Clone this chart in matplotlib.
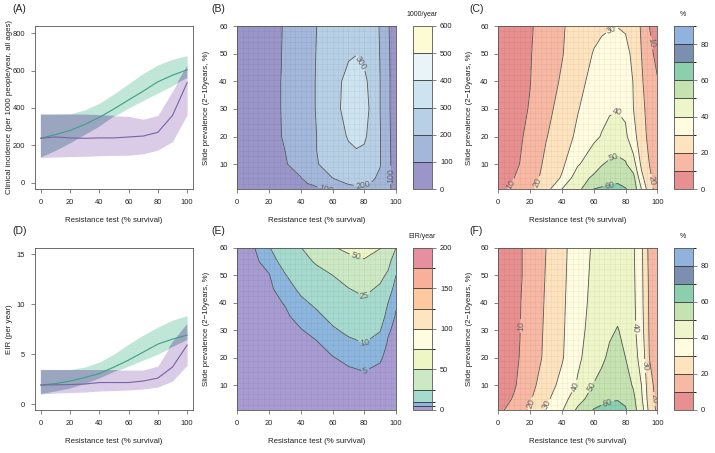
import numpy as np
import matplotlib
matplotlib.use("Agg")
import matplotlib.pyplot as plt
from matplotlib.colors import ListedColormap, BoundaryNorm
from matplotlib.cm import ScalarMappable

plt.rcParams['font.family'] = ['Liberation Sans', 'DejaVu Sans']

# ---------------- data: ribbon panels (A, D) ----------------
survival = [0, 10, 20, 30, 40, 50, 60, 70, 80, 90, 100]

# (A) clinical incidence per 1000 people/year
inc_green_mid = [238, 258, 280, 312, 350, 395, 443, 490, 540, 575, 604]
inc_green_lo = [135, 170, 210, 255, 300, 355, 400, 440, 480, 520, 560]
inc_green_hi = [365, 365, 368, 390, 425, 475, 530, 585, 630, 660, 680]
inc_purple_mid = [238, 245, 240, 238, 240, 240, 245, 250, 270, 360, 535]
inc_purple_lo = [135, 138, 140, 142, 145, 147, 148, 155, 175, 220, 365]
inc_purple_hi = [365, 365, 365, 365, 362, 358, 355, 340, 360, 490, 625]

# (D) EIR per year
eir_green_mid = [1.9, 2.05, 2.3, 2.65, 3.05, 3.7, 4.4, 5.2, 6.0, 6.5, 6.9]
eir_green_lo = [1.0, 1.25, 1.55, 2.0, 2.55, 3.2, 3.8, 4.4, 5.0, 5.7, 6.4]
eir_green_hi = [3.4, 3.4, 3.45, 3.7, 4.2, 5.0, 6.0, 6.9, 7.7, 8.4, 8.85]
eir_purple_mid = [1.9, 1.92, 1.95, 2.0, 2.15, 2.15, 2.15, 2.3, 2.6, 3.7, 5.9]
eir_purple_lo = [1.0, 1.1, 1.15, 1.2, 1.3, 1.35, 1.4, 1.5, 1.7, 2.3, 3.9]
eir_purple_hi = [3.4, 3.4, 3.4, 3.4, 3.4, 3.4, 3.4, 3.4, 3.8, 6.2, 8.0]

# ---------------- data: contour panels ----------------
# (B) clinical incidence (1000/year)
b_x = [0, 10, 20, 30, 40, 50, 60, 65, 70, 75, 80, 85, 90, 95, 100]
b_y = [1, 3, 5, 10, 15, 20, 30, 40, 45, 50, 60]
b_z = [
    [45, 55, 62, 68, 72, 85, 110, 148, 170, 185, 180, 168, 150, 115, 75],
    [48, 58, 68, 78, 85, 120, 165, 190, 205, 212, 208, 195, 172, 112, 72],
    [50, 60, 72, 85, 98, 150, 200, 215, 228, 235, 228, 210, 185, 112, 72],
    [55, 65, 80, 95, 125, 195, 235, 252, 265, 272, 265, 240, 205, 115, 72],
    [58, 68, 83, 100, 135, 200, 245, 268, 290, 298, 292, 262, 205, 113, 72],
    [60, 70, 85, 104, 145, 200, 255, 285, 305, 315, 310, 275, 205, 112, 72],
    [60, 70, 86, 105, 150, 205, 265, 300, 320, 330, 322, 285, 200, 110, 70],
    [60, 70, 86, 105, 150, 205, 263, 298, 312, 318, 312, 280, 200, 110, 70],
    [60, 70, 86, 104, 149, 204, 262, 290, 303, 307, 300, 272, 198, 109, 69],
    [60, 70, 85, 104, 148, 203, 260, 282, 296, 299, 294, 268, 195, 108, 68],
    [60, 70, 85, 103, 145, 200, 255, 275, 290, 295, 288, 260, 190, 105, 65],
]
b_levels = [0, 100, 200, 300, 400, 500, 600]
b_colors = ['#9b96ca', '#a3b7da', '#b7d0e5', '#cde3ef', '#e8f4f8', '#fdfbd3']

# (C) and (F) share x/y grid and palette (%)
cf_x = [0, 10, 20, 30, 40, 50, 60, 65, 70, 75, 80, 85, 90, 95, 100]
cf_y = [1, 5, 10, 20, 30, 40, 50, 60]
c_z = [
    [4, 14, 18, 26, 40, 47, 60, 61.5, 62, 62.5, 60.5, 56, 40, 24, 16],
    [3, 10, 16, 23, 31, 46, 51.5, 54, 56.5, 57.5, 56, 53, 33, 22, 15],
    [3, 8, 14, 22, 28, 39, 46, 49.5, 51.5, 52.5, 51, 44, 28, 20, 14],
    [3, 7.5, 12, 19.5, 25, 32, 38, 40.5, 43, 44, 42, 33, 25, 17, 13],
    [3, 7, 10.5, 17.5, 23, 29.5, 35, 37.5, 39, 39.5, 38, 30, 23, 16, 12],
    [3, 7, 9.8, 16, 21, 27, 33, 35.5, 37, 37.5, 36, 29.5, 21.5, 14, 10.5],
    [3, 6, 9.5, 14.5, 19.5, 25, 30.5, 32, 33, 33.5, 32.5, 28, 20, 12, 8],
    [3, 6, 9, 14, 19, 24, 27.5, 28.8, 29.5, 29.8, 29, 25.5, 19, 10, 6],
]
f_z = [
    [7, 15, 21, 31, 39, 52, 60.5, 62, 63, 63, 61, 53, 45, 27, 18],
    [5, 11, 19, 28, 36, 46, 55, 57.5, 59, 59.5, 58, 52, 42, 25, 17],
    [4, 9, 17, 25, 33, 41, 50.5, 53.5, 56, 57, 54, 49, 40, 24, 16],
    [4, 8, 14.5, 22, 29, 38.5, 44.5, 48, 52, 54, 50, 43.5, 37, 20, 15],
    [4, 7.5, 14, 21.5, 28.5, 37.5, 43, 45.5, 48.5, 50.5, 47.5, 42.5, 34, 19, 15],
    [4, 7.5, 13.5, 21, 28, 37, 42, 44, 46, 47, 45.5, 42, 33, 18.5, 14.5],
    [4, 7, 13, 20.5, 27.5, 36.5, 41.5, 43, 44.5, 45, 44, 41.5, 32.5, 18, 14],
    [4, 7, 13, 20, 27, 36, 41, 42.5, 43.5, 44, 43, 41, 32, 17, 14],
]
cf_levels = [0, 10, 20, 30, 40, 50, 60, 70, 80, 90]
cf_colors = ['#e89090', '#f8b9a4', '#fde3be', '#fffce0', '#eef6c9',
             '#c5e3b1', '#8ccfae', '#7b8fb0', '#8fb3dc']

# (E) EIR/year
e_x = [0, 10, 20, 30, 40, 50, 60, 70, 80, 90, 95, 100]
e_y = [1, 5, 10, 15, 20, 25, 30, 35, 40, 45, 50, 55, 60]
e_z = [
    [1.3, 1.4, 1.5, 1.6, 1.7, 1.8, 1.9, 2.0, 2.0, 2.0, 1.9, 1.9],
    [1.45, 1.6, 1.7, 1.8, 1.9, 2.0, 2.2, 2.4, 2.6, 2.5, 2.3, 2.2],
    [1.6, 1.8, 2.0, 2.2, 2.4, 2.6, 2.9, 3.3, 3.5, 3.2, 2.8, 2.6],
    [1.75, 2.0, 2.2, 2.5, 2.8, 3.2, 3.7, 4.4, 5.0, 4.2, 3.3, 2.9],
    [1.9, 2.2, 2.5, 2.8, 3.2, 3.8, 4.8, 6.0, 7.0, 5.5, 3.8, 3.2],
    [2.1, 2.4, 2.8, 3.2, 3.8, 4.6, 6.5, 8.3, 9.8, 7.5, 4.5, 3.6],
    [2.3, 2.7, 3.2, 3.8, 4.8, 6.2, 9.0, 11.5, 13.0, 10.3, 5.5, 4.0],
    [2.45, 2.9, 3.5, 4.4, 6.2, 8.5, 12.0, 15.0, 17.0, 13.5, 7.5, 4.6],
    [2.6, 3.2, 4.0, 5.2, 8.5, 11.5, 15.5, 19.5, 22.0, 17.5, 10.0, 5.5],
    [2.8, 3.5, 4.3, 6.8, 11.5, 15.0, 20.0, 24.5, 28.5, 22.5, 14.0, 7.0],
    [3.0, 3.8, 4.8, 9.5, 15.0, 19.5, 25.0, 31.0, 36.0, 29.0, 22.5, 10.0],
    [3.2, 4.1, 6.5, 13.0, 19.5, 27.0, 34.0, 42.0, 47.0, 38.0, 30.0, 15.0],
    [3.5, 4.5, 9.5, 17.0, 24.5, 38.0, 48.0, 56.0, 62.0, 51.0, 38.0, 25.0],
]
e_levels = [0, 5, 10, 25, 50, 75, 100, 125, 150, 175, 200]
e_colors = ['#a79bd1', '#8cb6de', '#a7dace', '#cde9c4', '#eef6c6',
            '#fffde0', '#fde6bf', '#fcc9a0', '#f8b09a', '#e6909f']

# ---------------- layout ----------------
W, H = 715, 453
fig = plt.figure(figsize=(W / 100, H / 100), dpi=100)

def box(x0, y0, x1, y1):
    return [x0 / W, 1 - y1 / H, (x1 - x0) / W, (y1 - y0) / H]

rows = [(26, 189), (247.7, 410)]
col_line = (35, 193)
col_b = (237.3, 396)
col_bcb = (413.3, 431.7)
col_c = (498.3, 657.3)
col_ccb = (674, 692.7)

TXT = '#222222'
EDGE = '#555555'
FS = 5.4

def style_axes(ax):
    for s in ax.spines.values():
        s.set_color(EDGE)
        s.set_linewidth(0.6)
    ax.tick_params(labelsize=FS, colors=EDGE, labelcolor=TXT, length=3,
                   width=0.5, pad=4)
    ax.set_xticks([0, 20, 40, 60, 80, 100])
    ax.set_xlabel('Resistance test (% survival)', fontsize=FS + 0.3,
                  color=TXT, labelpad=8)


def ribbon_panel(ax, g_lo, g_mid, g_hi, p_lo, p_mid, p_hi):
    x = np.array(survival, float)
    g_lo, g_hi = np.array(g_lo, float), np.array(g_hi, float)
    p_lo, p_hi = np.array(p_lo, float), np.array(p_hi, float)
    ax.fill_between(x, g_lo, g_hi, color='#c0e6d8', lw=0)
    ax.fill_between(x, p_lo, p_hi, color='#dacbe7', lw=0)
    o_lo = np.maximum(g_lo, p_lo)
    o_hi = np.minimum(g_hi, p_hi)
    ax.fill_between(x, o_lo, o_hi, where=o_hi > o_lo, interpolate=True,
                    color='#9aa6bf', lw=0)
    ax.plot(x, g_mid, color='#3a9f86', lw=0.8)
    ax.plot(x, p_mid, color='#7a62a6', lw=0.8)
    ax.set_xlim(-4, 104)
    style_axes(ax)


def contour_panel(ax, cax, xs, ys, zs, levels, colors, line_levels,
                  cb_ticks, cb_title, label_pos):
    X, Y = np.meshgrid(xs, ys)
    Z = np.array(zs, float)
    ax.contourf(X, Y, Z, levels=levels, colors=colors)
    # faint raster texture
    for v in np.linspace(0, 100, 31):
        ax.axvline(v, color='#000000', alpha=0.05, lw=0.5)
    for v in np.linspace(1, 60, 31):
        ax.axhline(v, color='#000000', alpha=0.05, lw=0.5)
    cs = ax.contour(X, Y, Z, levels=line_levels, colors='#555555',
                    linewidths=0.6)
    ax.clabel(cs, inline=True, fontsize=6.3, colors='#666666', fmt='%d',
              manual=label_pos, inline_spacing=2)
    ax.set_xlim(0, 100)
    ax.set_ylim(1, 60)
    ax.set_yticks([10, 20, 30, 40, 50, 60])
    style_axes(ax)

    cmap = ListedColormap(colors)
    norm = BoundaryNorm(levels, cmap.N)
    cb = fig.colorbar(ScalarMappable(norm=norm, cmap=cmap), cax=cax,
                      boundaries=levels, spacing='proportional',
                      ticks=cb_ticks)
    cb.outline.set_edgecolor(EDGE)
    cb.outline.set_linewidth(0.6)
    for lv in levels[1:-1]:
        cax.axhline(lv, color='#333333', lw=0.6)
    cax.tick_params(labelsize=FS, colors=EDGE, labelcolor=TXT, length=3,
                    width=0.5, pad=3)
    cax.set_title(cb_title, fontsize=FS - 0.4, color=TXT, pad=7)


def ylabel_text(x, y0, y1, s):
    fig.text(x / W, 1 - (y0 + y1) / 2 / H, s, rotation=90, ha='center',
             va='center', fontsize=FS + 0.3, color=TXT)


prev_label = 'Slide prevalence (2\u221210years, %)'

for r, (y0, y1) in enumerate(rows):
    ax_l = fig.add_axes(box(col_line[0], y0, col_line[1], y1))
    ax_b = fig.add_axes(box(col_b[0], y0, col_b[1], y1))
    cax_b = fig.add_axes(box(col_bcb[0], y0, col_bcb[1], y1))
    ax_c = fig.add_axes(box(col_c[0], y0, col_c[1], y1))
    cax_c = fig.add_axes(box(col_ccb[0], y0, col_ccb[1], y1))

    if r == 0:
        ribbon_panel(ax_l, inc_green_lo, inc_green_mid, inc_green_hi,
                     inc_purple_lo, inc_purple_mid, inc_purple_hi)
        ax_l.set_ylim(-33, 838)
        ax_l.set_yticks([0, 200, 400, 600, 800])
        ylabel_text(10, y0, y1,
                    'Clinical incidence (per 1000 people/year, all ages)')
        contour_panel(ax_b, cax_b, b_x, b_y, b_z, b_levels, b_colors,
                      [100, 200, 300, 400, 500], [0, 100, 200, 300, 400, 500, 600],
                      '1000/year',
                      [(76, 46), (79, 3), (57, 1.5), (97, 6)])
        contour_panel(ax_c, cax_c, cf_x, cf_y, c_z, cf_levels, cf_colors,
                      cf_levels[1:-1], [0, 20, 40, 60, 80], '%',
                      [(72, 57.5), (96.5, 54), (74, 30), (73, 12), (70, 2),
                       (7, 3), (22, 4), (97, 4)])
        labels = ['(A)', '(B)', '(C)']
    else:
        ribbon_panel(ax_l, eir_green_lo, eir_green_mid, eir_green_hi,
                     eir_purple_lo, eir_purple_mid, eir_purple_hi)
        ax_l.set_ylim(-0.6, 15.65)
        ax_l.set_yticks([0, 5, 10, 15])
        ylabel_text(10, y0, y1, 'EIR (per year)')
        contour_panel(ax_b, cax_b, e_x, e_y, e_z, e_levels, e_colors,
                      [5, 10, 25, 50, 75], [0, 50, 100, 150, 200],
                      'EIR/year',
                      [(75, 57), (80, 42.5), (80, 25.5), (81, 15)])
        contour_panel(ax_c, cax_c, cf_x, cf_y, f_z, cf_levels, cf_colors,
                      cf_levels[1:-1], [0, 20, 40, 60, 80], '%',
                      [(15.5, 31.5), (88, 31), (93, 17), (97.5, 5),
                       (20, 3.5), (30, 3), (47, 10), (58.5, 9.5), (70, 2)])
        labels = ['(D)', '(E)', '(F)']

    ylabel_text(206, y0, y1, prev_label)
    ylabel_text(470, y0, y1, prev_label)

    for lab, px in zip(labels, [12, 211, 469]):
        fig.text(px / W, 1 - (y0 - 17) / H, lab, fontsize=7.5, color=TXT,
                 ha='left', va='center')

fig.savefig('out.png', dpi=100)
